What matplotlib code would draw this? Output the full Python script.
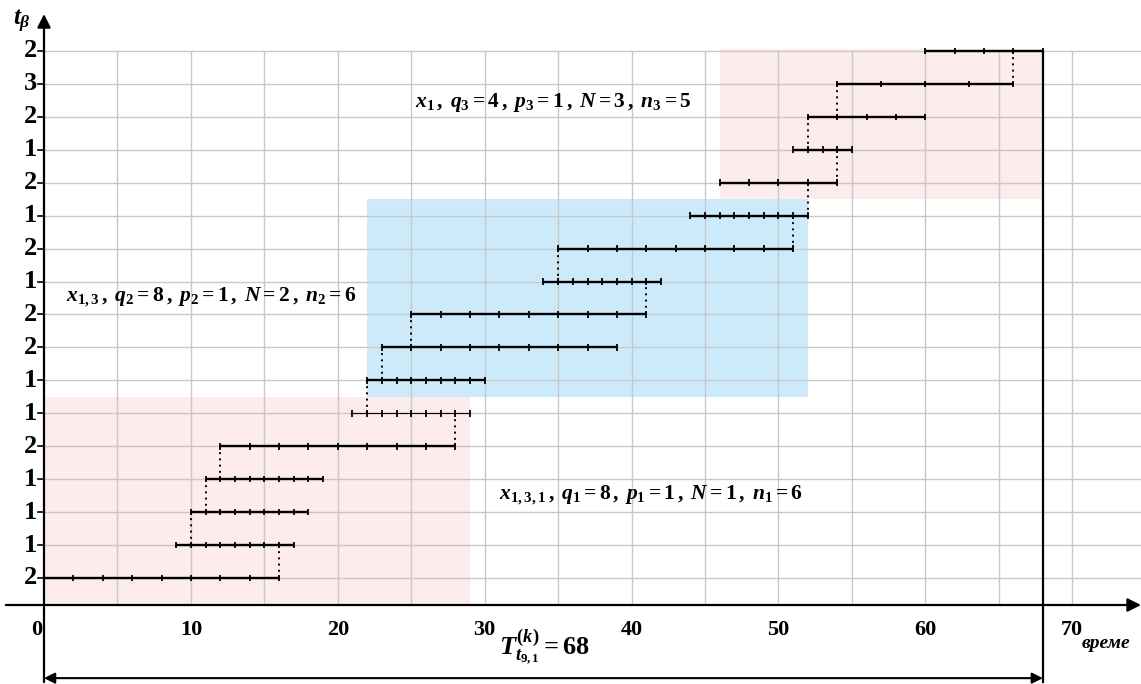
import numpy as np
import matplotlib
matplotlib.use("Agg")
import matplotlib.pyplot as plt
from matplotlib.patches import Rectangle

# operations, bottom row first
t_beta = [2, 1, 1, 1, 2, 1, 1, 2, 2, 1, 2, 1, 2, 1, 2, 3, 2]
starts = [0, 9, 10, 11, 12, 21, 22, 23, 25, 34, 35, 44, 46, 51, 52, 54, 60]
ends = [16, 17, 18, 19, 28, 29, 30, 39, 41, 42, 51, 52, 54, 55, 60, 66, 68]
# x where row i is joined to row i+1 (dotted)
links = [16, 10, 11, 12, 28, 22, 23, 25, 41, 35, 51, 52, 54, 52, 54, 66]
# groups of rows (1-based, inclusive)
groups = [(1, 6), (7, 12), (13, 17)]
group_labels = [
    r"$x_{1,3,1}\,,\; q_1 = 8\,,\; p_1 = 1\,,\; N = 1\,,\; n_1 = 6$",
    r"$x_{1,3}\,,\; q_2 = 8\,,\; p_2 = 1\,,\; N = 2\,,\; n_2 = 6$",
    r"$x_{1}\,,\; q_3 = 4\,,\; p_3 = 1\,,\; N = 3\,,\; n_3 = 5$",
]
x_ticks = [0, 10, 20, 30, 40, 50, 60, 70]
T_total = 68

plt.rcParams['font.family'] = 'Liberation Serif'
plt.rcParams['font.weight'] = 'bold'
plt.rcParams['mathtext.fontset'] = 'custom'
plt.rcParams['mathtext.rm'] = 'Liberation Serif:bold'
plt.rcParams['mathtext.it'] = 'Liberation Serif:italic:bold'
plt.rcParams['mathtext.bf'] = 'Liberation Serif:bold'

fig = plt.figure(figsize=(11.41, 6.84), dpi=100)
ax = fig.add_axes([0, 0, 1, 1])
ax.set_xlim(-2.995, 74.68)
ax.set_ylim(-2.218, 18.547)
ax.axis('off')

rows = np.arange(1, len(t_beta) + 1)
y_axis = 0.18
y_top = 17.05

# shaded blocks
colors = ['#fdecec', '#cdeafa', '#fdecec']
for (r0, r1), c in zip(groups, colors):
    x0 = min(starts[r0 - 1:r1])
    x1 = max(ends[r0 - 1:r1])
    y0 = y_axis if r0 == 1 else r0 - 0.5
    y1 = min(r1 + 0.5, y_top)
    ax.add_patch(Rectangle((x0, y0), x1 - x0, y1 - y0, color=c, lw=0, zorder=0))

# grid
ax.hlines(rows, 0, 74.68, color='#c8c8c8', lw=1, zorder=1)
ax.vlines(np.arange(5, 75, 5), y_axis, rows[-1], color='#c8c8c8', lw=1, zorder=1)

# bars with ticks
for i, (r, t, s, e) in enumerate(zip(rows, t_beta, starts, ends)):
    lw = 0.8 if i == 5 else 1.7
    ax.hlines(r, s, e, color='black', lw=lw, zorder=3)
    ticks = np.arange(s, e + 0.01, t)
    ax.vlines(ticks, r - 0.1, r + 0.1, color='black', lw=1.3, zorder=3)

# dotted links
for i, xl in enumerate(links):
    ax.plot([xl, xl], [rows[i], rows[i + 1]], color='black', lw=1.4,
            ls=(0, (1, 2.2)), zorder=3)

# axes with arrows
ax.annotate('', xy=(74.68, y_axis), xytext=(-2.6, y_axis),
            arrowprops=dict(arrowstyle='-|>', color='black', lw=1.6,
                            mutation_scale=20, shrinkA=0, shrinkB=0), zorder=4)
ax.annotate('', xy=(0, 18.12), xytext=(0, -2.16),
            arrowprops=dict(arrowstyle='-|>', color='black', lw=1.6,
                            mutation_scale=20, shrinkA=0, shrinkB=0), zorder=4)
ax.plot([T_total, T_total], [rows[-1], -2.16], color='black', lw=1.6, zorder=4)
ax.annotate('', xy=(T_total, -2.04), xytext=(0, -2.04),
            arrowprops=dict(arrowstyle='<|-|>', color='black', lw=1.5,
                            mutation_scale=16, shrinkA=0, shrinkB=0), zorder=4)

# y tick labels
for r, t in zip(rows, t_beta):
    ax.plot([-0.4, 0], [r, r], color='black', lw=1.2)
    ax.text(-0.45, r, str(t), ha='right', va='center', fontsize=19)

# x tick labels
for xt in x_ticks:
    xp = xt - 0.5 if xt == 0 else xt
    ax.text(xp, -0.58, str(xt), ha='center', va='center', fontsize=16)

ax.text(72.3, -1.0, 'време', ha='center', va='center', fontsize=14,
        style='italic')
ax.text(-1.5, 17.9, r'$t_{\beta}$', ha='center', va='center', fontsize=18)
ax.text(34.1, -1.13, r'$T^{(k)}_{t_{9,1}} = %d$' % T_total, ha='center',
        va='center', fontsize=19)

# group annotations
label_pos = [(41.32, 3.52), (11.37, 9.53), (34.65, 15.45)]
for (lx, ly), txt in zip(label_pos, group_labels):
    ax.text(lx, ly, txt, ha='center', va='center', fontsize=15.5, zorder=5)

fig.savefig('out.png', dpi=100)
